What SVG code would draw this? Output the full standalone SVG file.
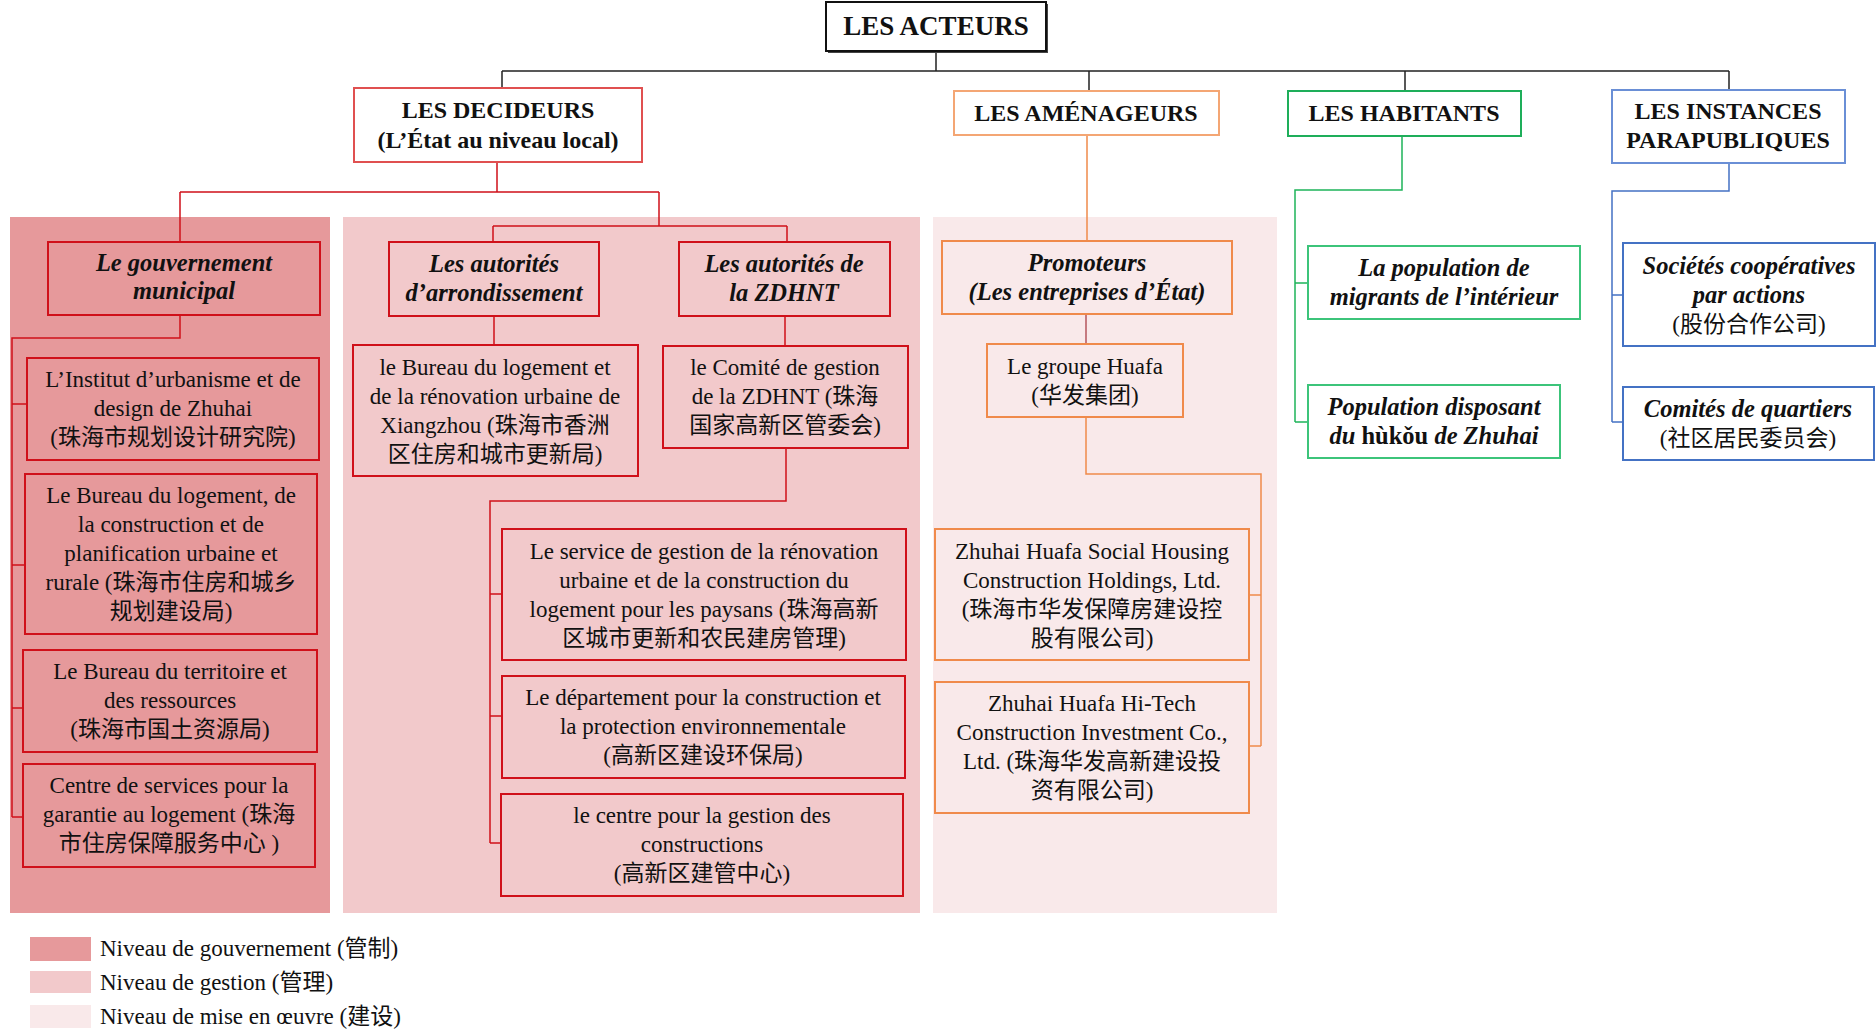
<svg xmlns="http://www.w3.org/2000/svg" width="1876" height="1032" viewBox="0 0 1876 1032">
<style>
text{font-family:"Liberation Serif","Noto Sans CJK SC",serif;fill:#111;text-anchor:middle;font-size:23px}
.h{font-weight:bold;font-size:24px}
.hi{font-weight:bold;font-style:italic;font-size:24.5px}
.up{font-style:normal}
.reg{font-weight:normal;font-style:normal}
.lg{text-anchor:start}
.p1{fill:#E6999B}
.p2{fill:#F2C9CB}
.p3{fill:#F9E9EA}
.br{fill:none;stroke:#D0101A;stroke-width:2}
.bo{fill:none;stroke:#F08A4B;stroke-width:2}
.bg{fill:none;stroke:#3CC47A;stroke-width:2}
.bb{fill:none;stroke:#4472C4;stroke-width:2}
.tr{fill:#fff;stroke:#E05050;stroke-width:2}
.to{fill:#fff;stroke:#F4A674;stroke-width:2}
.tg{fill:#fff;stroke:#1EAE5A;stroke-width:2}
.tb{fill:#fff;stroke:#6A8FD6;stroke-width:2}
.ck{fill:none;stroke:#222;stroke-width:1.5}
.cr{fill:none;stroke:#D0101A;stroke-width:1.5}
.co{fill:none;stroke:#F08A4B;stroke-width:1.5}
.cg{fill:none;stroke:#1EB45A;stroke-width:1.5}
.cb{fill:none;stroke:#4472C4;stroke-width:1.5}
</style>
<g id="panels">
<rect class="p1" x="10" y="217" width="320" height="696"/>
<rect class="p2" x="343" y="217" width="577" height="696"/>
<rect class="p3" x="933" y="217" width="344" height="696"/>
</g>
<g id="connectors">
<path class="ck" d="M936 51V71M502 71H1729M502 71V88M1089 71V91M1405 71V91M1729 71V90"/>
<path class="cr" d="M497 162V192M180 192H659M180 192V242M659 192V226M493 226H787M493 226V242M787 226V242"/>
<path class="cr" d="M180 315V338H12V817M12 404H27M12 565H25M12 708H23M12 817H23"/>
<path class="cr" d="M494 316V345M785 316V346M786 448V501H490V843M490 594H502M490 716H502M490 843H501"/>
<path class="co" d="M1087 135V241M1086 417V474H1261V746M1249 595H1261M1249 746H1261"/>
<path fill="none" stroke="#B5545C" stroke-width="1.5" d="M1086 314V344"/>
<path class="cg" d="M1402 136V190H1295V422M1295 283H1308M1295 422H1308"/>
<path class="cb" d="M1729 163V191H1612V422M1612 295H1623M1612 422H1623"/>
</g>
<g id="acteurs">
<rect x="828" y="4" width="220" height="49" fill="#444"/>
<rect x="826" y="2" width="220" height="49" fill="#fff" stroke="#111" stroke-width="2"/>
<text class="h" x="936" y="35" style="font-size:27px">LES ACTEURS</text>
</g>
<g id="decideurs">
<rect class="tr" x="354" y="88" width="288" height="74"/>
<text class="h" x="498" y="118">LES DECIDEURS</text>
<text class="h" x="498" y="148">(L’État au niveau local)</text>
</g>
<g id="amenageurs">
<rect class="to" x="954" y="91" width="265" height="44"/>
<text class="h" x="1086" y="121">LES AMÉNAGEURS</text>
</g>
<g id="habitants">
<rect class="tg" x="1288" y="91" width="233" height="45"/>
<text class="h" x="1404" y="121">LES HABITANTS</text>
</g>
<g id="instances">
<rect class="tb" x="1612" y="90" width="233" height="73"/>
<text class="h" x="1728" y="119">LES INSTANCES</text>
<text class="h" x="1728" y="148">PARAPUBLIQUES</text>
</g>
<g id="gouvernement">
<rect class="br" x="48" y="242" width="272" height="73"/>
<text class="hi" x="184" y="271">Le gouvernement</text>
<text class="hi" x="184" y="299">municipal</text>
</g>
<g id="institut">
<rect class="br" x="27" y="358" width="292" height="102"/>
<text x="173" y="387">L’Institut d’urbanisme et de</text>
<text x="173" y="416">design de Zhuhai</text>
<text x="173" y="445">(珠海市规划设计研究院)</text>
</g>
<g id="bureau-logement">
<rect class="br" x="25" y="474" width="292" height="160"/>
<text x="171" y="503">Le Bureau du logement, de</text>
<text x="171" y="532">la construction et de</text>
<text x="171" y="561">planification urbaine et</text>
<text x="171" y="590">rurale (珠海市住房和城乡</text>
<text x="171" y="619">规划建设局)</text>
</g>
<g id="bureau-territoire">
<rect class="br" x="23" y="650" width="294" height="102"/>
<text x="170" y="679">Le Bureau du territoire et</text>
<text x="170" y="708">des ressources</text>
<text x="170" y="737">(珠海市国土资源局)</text>
</g>
<g id="centre-services">
<rect class="br" x="23" y="764" width="292" height="103"/>
<text x="169" y="793">Centre de services pour la</text>
<text x="169" y="822">garantie au logement (珠海</text>
<text x="169" y="851">市住房保障服务中心 )</text>
</g>
<g id="arrondissement">
<rect class="br" x="389" y="242" width="210" height="74"/>
<text class="hi" x="494" y="272">Les autorités</text>
<text class="hi" x="494" y="301">d’arrondissement</text>
</g>
<g id="zdhnt">
<rect class="br" x="679" y="242" width="211" height="74"/>
<text class="hi" x="784" y="272">Les autorités de</text>
<text class="hi" x="784" y="301">la ZDHNT</text>
</g>
<g id="xiangzhou">
<rect class="br" x="353" y="345" width="285" height="131"/>
<text x="495" y="375">le Bureau du logement et</text>
<text x="495" y="404">de la rénovation urbaine de</text>
<text x="495" y="433">Xiangzhou  (珠海市香洲</text>
<text x="495" y="462">区住房和城市更新局)</text>
</g>
<g id="comite">
<rect class="br" x="663" y="346" width="245" height="102"/>
<text x="785" y="375">le Comité de gestion</text>
<text x="785" y="404">de la ZDHNT (珠海</text>
<text x="785" y="433">国家高新区管委会)</text>
</g>
<g id="service">
<rect class="br" x="502" y="529" width="404" height="131"/>
<text x="704" y="559">Le service de gestion de la rénovation</text>
<text x="704" y="588">urbaine et de la construction du</text>
<text x="704" y="617">logement pour les paysans (珠海高新</text>
<text x="704" y="646">区城市更新和农民建房管理)</text>
</g>
<g id="departement">
<rect class="br" x="502" y="676" width="403" height="102"/>
<text x="703" y="705">Le département pour la construction et</text>
<text x="703" y="734">la protection environnementale</text>
<text x="703" y="763">(高新区建设环保局)</text>
</g>
<g id="centre-gestion">
<rect class="br" x="501" y="794" width="402" height="102"/>
<text x="702" y="823">le centre pour la gestion des</text>
<text x="702" y="852">constructions</text>
<text x="702" y="881">(高新区建管中心)</text>
</g>
<g id="promoteurs">
<rect class="bo" x="942" y="241" width="290" height="73"/>
<text class="hi" x="1087" y="271">Promoteurs</text>
<text class="hi" x="1087" y="300">(Les entreprises d’État)</text>
</g>
<g id="huafa">
<rect class="bo" x="987" y="344" width="196" height="73"/>
<text x="1085" y="374">Le groupe Huafa</text>
<text x="1085" y="403">(华发集团)</text>
</g>
<g id="social-housing">
<rect class="bo" x="935" y="529" width="314" height="131"/>
<text x="1092" y="559">Zhuhai Huafa Social Housing</text>
<text x="1092" y="588">Construction Holdings, Ltd.</text>
<text x="1092" y="617">(珠海市华发保障房建设控</text>
<text x="1092" y="646">股有限公司)</text>
</g>
<g id="hitech">
<rect class="bo" x="935" y="682" width="314" height="131"/>
<text x="1092" y="711">Zhuhai Huafa Hi-Tech</text>
<text x="1092" y="740">Construction Investment Co.,</text>
<text x="1092" y="769">Ltd. (珠海华发高新建设投</text>
<text x="1092" y="798">资有限公司)</text>
</g>
<g id="migrants">
<rect class="bg" x="1308" y="246" width="272" height="73"/>
<text class="hi" x="1444" y="276">La population de</text>
<text class="hi" x="1444" y="305">migrants de l’intérieur</text>
</g>
<g id="hukou">
<rect class="bg" x="1308" y="385" width="252" height="73"/>
<text class="hi" x="1434" y="415">Population disposant</text>
<text class="hi" x="1434" y="444">du <tspan class="up">hùkǒu</tspan> de Zhuhai</text>
</g>
<g id="cooperatives">
<rect class="bb" x="1623" y="243" width="252" height="103"/>
<text class="hi" x="1749" y="274">Sociétés coopératives</text>
<text class="hi" x="1749" y="303">par actions</text>
<text x="1749" y="332">(股份合作公司)</text>
</g>
<g id="quartiers">
<rect class="bb" x="1623" y="387" width="251" height="73"/>
<text class="hi" x="1748" y="417">Comités de quartiers</text>
<text x="1748" y="446">(社区居民委员会)</text>
</g>
<g id="legend">
<rect class="p1" x="30" y="937" width="61" height="24"/>
<rect class="p2" x="30" y="971" width="61" height="22"/>
<rect class="p3" x="30" y="1005" width="61" height="23"/>
<text class="lg" x="100" y="956">Niveau de gouvernement (管制)</text>
<text class="lg" x="100" y="990">Niveau de gestion (管理)</text>
<text class="lg" x="100" y="1024">Niveau de mise en œuvre (建设)</text>
</g>
</svg>
